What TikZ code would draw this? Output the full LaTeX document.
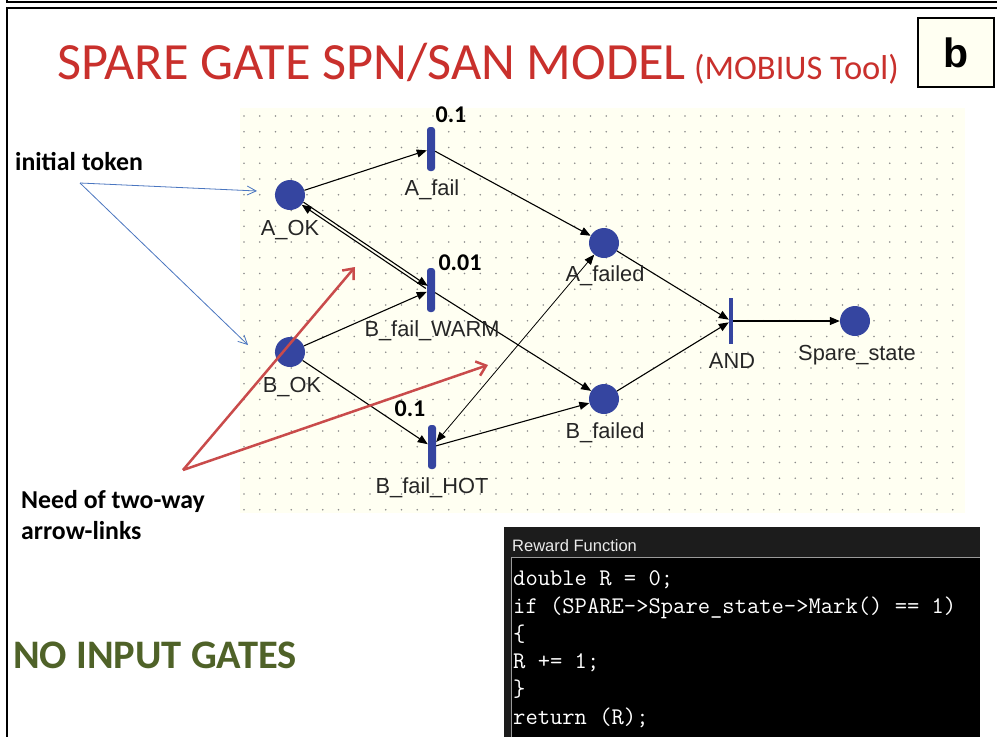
\documentclass[tikz,border=0pt]{standalone}
\usepackage{fontspec}
\setmainfont{Carlito}
\newfontfamily\arialf{Liberation Sans}
\usetikzlibrary{arrows.meta,calc}
\definecolor{petri}{HTML}{3545A0}
\definecolor{canvasc}{HTML}{FFFFF2}
\definecolor{dotc}{HTML}{8C8C8C}
\definecolor{titlered}{HTML}{C9302C}
\definecolor{olive}{HTML}{4F6228}
\definecolor{annblue}{HTML}{4A76C0}
\definecolor{annred}{HTML}{C94B4B}
\definecolor{winbar}{HTML}{1C1C1C}
\definecolor{panelgrey}{HTML}{9A9A9A}
\begin{document}
\begin{tikzpicture}[x=1pt,y=-1pt,
  place/.style={circle,fill=petri,minimum size=30pt,inner sep=0pt},
  trans/.style={rectangle,fill=petri,minimum width=8pt,minimum height=44pt,inner sep=0pt,rounded corners=3pt},
  andtrans/.style={rectangle,fill=petri,minimum width=4pt,minimum height=46pt,inner sep=0pt},
  pnarc/.style={draw=black,line width=1.1pt,-{Triangle[length=10pt,width=8pt]}},
  twoway/.style={draw=black,line width=0.8pt,{Triangle[length=10pt,width=8pt]}-{Triangle[length=10pt,width=8pt]}},
  lbl/.style={anchor=base,inner sep=0pt,text=black!85,font=\arialf\fontsize{21.8}{24}\selectfont},
  num/.style={anchor=base,inner sep=0pt,font=\bfseries\fontsize{24}{28}\selectfont},
  ann/.style={anchor=base west,inner sep=0pt,font=\bfseries\fontsize{25.8}{31}\selectfont},
  bluearr/.style={draw=annblue,line width=0.8pt,-{Straight Barb[length=9pt,width=9pt]}},
  redarr/.style={draw=annred,line width=2.5pt,-{Straight Barb[length=9pt,width=15pt]}},
  codeline/.style={anchor=base west,inner sep=0pt,text=white,font=\ttfamily\fontsize{23.9}{26}\selectfont}
]
\useasboundingbox (0,0) rectangle (997,737);
\clip (0,0) rectangle (997,737);
\fill[white] (0,0) rectangle (997,737);
% frame
\draw[line width=1.8pt] (7,-5) -- (7,2) -- (1005,2);
\draw[line width=1.8pt] (1005,8) -- (7,8) -- (7,745);
% title
\node[anchor=base west,inner sep=0pt,text=titlered,font=\fontsize{52.3}{60}\selectfont] (title) at (57,79) {SPARE GATE SPN/SAN MODEL};
\node[anchor=base west,inner sep=0pt,text=titlered,font=\fontsize{34.5}{40}\selectfont] (mobius) at (694,79) {(MOBIUS Tool)};
\node[draw=black,line width=1.8pt,fill=canvasc,minimum width=76pt,minimum height=69pt,inner sep=0pt,font=\arialf\bfseries\fontsize{41}{48}\selectfont] (bbox) at (956,52.5) {b};
% canvas
\fill[canvasc] (240,108) rectangle (965,513);
\foreach \i in {0,...,45}{\foreach \j in {0,...,25}{\fill[dotc] (244+15.75*\i,116+15.75*\j) circle (0.85);}}
% places
\node[place] (aok) at (290,195) {};
\node[place] (bok) at (290,352) {};
\node[place] (afailed) at (604,243) {};
\node[place] (bfailed) at (604,399) {};
\node[place] (spare) at (855,321) {};
% transitions
\node[trans] (afail) at (431,149) {};
\node[trans] (warm) at (431,290) {};
\node[trans] (hot) at (432,447) {};
\node[andtrans] (and) at (731,321) {};
% arcs
\draw[pnarc] (aok) -- (afail);
\draw[pnarc] (afail) -- (afailed);
\draw[pnarc,transform canvas={shift={(0.9,-1.3)}}] (aok) -- (warm);
\draw[pnarc,transform canvas={shift={(-0.9,1.3)}}] (warm) -- (aok);
\draw[pnarc] (bok) -- (warm);
\draw[pnarc] (warm) -- (bfailed);
\draw[pnarc] (bok) -- (hot);
\draw[pnarc] (hot) -- (bfailed);
\draw[twoway] (hot) -- (afailed);
\draw[pnarc] (afailed) -- (and);
\draw[pnarc] (bfailed) -- (and);
\draw[pnarc] (and) -- (spare);
% labels
\node[lbl] (laok) at (290,235) {A\_OK};
\node[lbl] (lbok) at (292,392) {B\_OK};
\node[lbl] (lafailed) at (605,281) {A\_failed};
\node[lbl] (lbfailed) at (605,438) {B\_failed};
\node[lbl] (lspare) at (857,360) {Spare\_state};
\node[lbl] (lafail) at (432,195) {A\_fail};
\node[lbl] (lwarm) at (432,336) {B\_fail\_WARM};
\node[lbl] (lhot) at (432,493) {B\_fail\_HOT};
\node[lbl] (land) at (732,368) {AND};
% rates
\node[num] (rafail) at (451,122) {0.1};
\node[num] (rwarm) at (460,270) {0.01};
\node[num] (rhot) at (410,416) {0.1};
% annotations
\node[ann] (init) at (15,170) {initial token};
\coordinate (initpt) at (80,183);
\draw[bluearr] (initpt) -- (257,191);
\draw[bluearr] (initpt) -- (248,345);
\node[ann] (need1) at (21,508) {Need of two-way};
\node[ann] (need2) at (21,539) {arrow-links};
\coordinate (redpt) at (183,470);
\draw[redarr] (redpt) -- (355,267);
\draw[redarr] (redpt) -- (488,365);
\node[anchor=base west,inner sep=0pt,text=olive,font=\bfseries\fontsize{40.5}{44}\selectfont] (noinput) at (13,668) {NO INPUT GATES};
% reward function window
\fill[winbar] (504,527) rectangle (980,737);
\fill[black] (511,557) rectangle (980,737);
\draw[panelgrey,line width=1pt] (511,737) -- (511,557) -- (980,557);
\node[anchor=base west,inner sep=0pt,text=black!8,font=\arialf\fontsize{16.5}{20}\selectfont] (rwtitle) at (512,551) {Reward Function};
\node[codeline] (c1) at (513,585) {double R = 0;};
\node[codeline] (c2) at (513,613) {if (SPARE->Spare\_state->Mark() == 1)};
\node[codeline] (c3) at (513,641) {\{};
\node[codeline] (c4) at (513,668) {R += 1;};
\node[codeline] (c5) at (513,696) {\}};
\node[codeline] (c6) at (513,724) {return (R);};
\end{tikzpicture}
\end{document}
